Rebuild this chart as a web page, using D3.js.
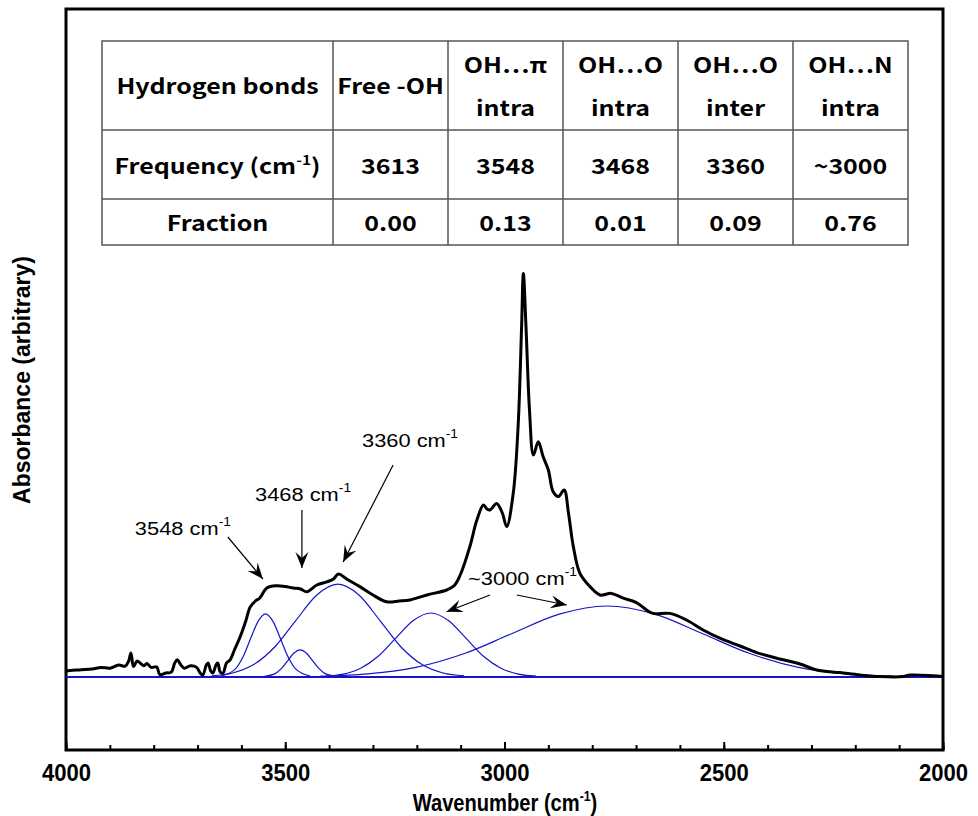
<!DOCTYPE html>
<html>
<head>
<meta charset="utf-8">
<script src="https://cdn.jsdelivr.net/npm/d3@7"></script>
<style>
  body { margin: 0; background: #fff; }
  svg text { font-family: Arial, "Liberation Sans", sans-serif; }
  .tbl text { font-family: "Noto Sans CJK KR", "Noto Sans", sans-serif; font-weight: 700; }
</style>
</head>
<body>
<svg id="chart" width="978" height="816"></svg>
<script>
// measured spectrum, [wavenumber, absorbance]
const spectrum = [
  [4000,0.015],[3991,0.016],[3965,0.018],[3940,0.02],[3920,0.024],[3900,0.022],[3880,0.03],[3865,0.027],
  [3857,0.04],[3852,0.06],[3846,0.026],[3838,0.04],[3831,0.035],[3822,0.028],[3816,0.034],[3806,0.024],
  [3793,0.025],[3786,0.006],[3772,0.01],[3760,0.012],[3752,0.035],[3746,0.043],[3738,0.03],[3730,0.022],
  [3716,0.028],[3702,0.024],[3694,0.01],[3688,0.005],[3680,0.03],[3676,0.035],[3670,0.015],[3665,0.01],
  [3658,0.03],[3654,0.035],[3648,0.012],[3642,0.01],[3634,0.035],[3626,0.0425],[3615,0.07],[3603,0.1],
  [3590,0.14],[3580,0.175],[3568,0.19],[3558,0.1975],[3542,0.2225],[3520,0.228],[3500,0.226],[3482,0.2225],
  [3465,0.22],[3451,0.213],[3428,0.23],[3405,0.238],[3390,0.245],[3379,0.2575],[3360,0.245],[3330,0.226],
  [3300,0.205],[3269,0.188],[3240,0.19],[3216,0.1925],[3177,0.205],[3132,0.2175],[3115,0.228],[3101,0.255],
  [3079,0.326],[3063,0.3925],[3048,0.43],[3040,0.42],[3033,0.4175],[3018,0.434],[3005,0.41],[2995,0.376],
  [2980,0.46],[2969,0.626],[2961,0.876],[2957,1.009],[2951,0.876],[2943,0.6675],[2934,0.555],[2923,0.588],
  [2912,0.551],[2900,0.5175],[2889,0.463],[2877,0.451],[2864,0.4675],[2854,0.409],[2843,0.326],[2828,0.259],
  [2805,0.226],[2782,0.205],[2756,0.209],[2729,0.197],[2699,0.186],[2676,0.1675],[2661,0.159],[2623,0.159],
  [2585,0.1425],[2547,0.1175],[2509,0.097],[2463,0.0775],[2425,0.061],[2379,0.047],[2326,0.0325],[2288,0.0175],
  [2235,0.011],[2189,0.005],[2144,0.001],[2091,0.001],[2075,0.005],[2023,0.003],[2000,0.001]
];

// fitted bands
const band3548 = [[3647,0.002],[3613,0.021],[3596,0.051],[3579,0.096],[3562,0.139],[3545,0.158],
  [3528,0.139],[3511,0.096],[3494,0.051],[3477,0.021],[3443,0.002]];
const band3468 = [[3550,0.001],[3522,0.009],[3508,0.022],[3494,0.041],[3480,0.060],[3466,0.068],
  [3452,0.060],[3438,0.041],[3424,0.022],[3410,0.009],[3382,0.001]];
const band3360 = [[3668,0.003],[3620,0.010],[3572,0.031],[3524,0.075],[3476,0.141],[3428,0.205],[3380,0.232],
  [3332,0.205],[3284,0.141],[3236,0.075],[3188,0.031],[3140,0.010],[3092,0.003]];
const band3170 = [[3408,0.002],[3368,0.007],[3328,0.022],[3288,0.052],[3248,0.097],[3208,0.141],[3168,0.160],
  [3128,0.141],[3088,0.097],[3048,0.052],[3008,0.022],[2968,0.007],[2928,0.002]];
const band2766 = [[3420,0.002],[3311,0.008],[3202,0.024],[3093,0.058],[2984,0.108],[2875,0.157],[2766,0.1775],
  [2657,0.157],[2548,0.108],[2439,0.058],[2330,0.024],[2221,0.008],[2112,0.002]];
const bands = [band3548, band3468, band3360, band3170, band2766];

// annotation labels: text, anchor [wn, abs]
const labels = [
  { t: "3548 cm", at: [3843, 0.355] },
  { t: "3468 cm", at: [3569, 0.44] },
  { t: "3360 cm", at: [3325, 0.575] },
  { t: "~3000 cm", at: [3083, 0.23] }
];
const arrows = [
  [[3631, 0.35], [3551, 0.245]],
  [[3462, 0.4175], [3462, 0.2725]],
  [[3254, 0.53], [3368, 0.2875]],
  [[3033, 0.205], [3132, 0.163]],
  [[2972, 0.205], [2858, 0.18]]
];

// table
const headers = [["Hydrogen bonds"], ["Free -OH"], ["OH…π", "intra"], ["OH…O", "intra"], ["OH…O", "inter"], ["OH…N", "intra"]];
const frequencies = ["3613", "3548", "3468", "3360", "~3000"];
const fractions = [0.00, 0.13, 0.01, 0.09, 0.76];

const majorTicks = [4000, 3500, 3000, 2500, 2000];

const svg = d3.select("#chart");
const x = d3.scaleLinear().domain([4000, 2000]).range([66, 943]);
const y = d3.scaleLinear().domain([-0.1825, 1.67]).range([750, 9]);

// axis
const gx = svg.append("g").attr("transform", "translate(0,750)");
gx.call(d3.axisBottom(x).tickValues(d3.range(2000, 4001, 100)).tickSize(-5).tickFormat(""));
gx.call(g => g.select(".domain").remove());
const gxm = svg.append("g").attr("transform", "translate(0,750)")
  .call(d3.axisBottom(x).tickValues(majorTicks).tickSize(-8).tickPadding(14).tickFormat(d3.format("d")));
gxm.select(".domain").remove();
svg.selectAll(".tick line").attr("stroke", "#000").attr("stroke-width", 2);
// tick labels look a little condensed in the original
gxm.selectAll(".tick text").attr("font-size", 24).attr("font-weight", "bold").attr("fill", "#000")
  .attr("transform", "scale(0.92,1)")
  .attr("x", function () { return 0; });

// frame
svg.append("rect").attr("x", 66).attr("y", 9).attr("width", 877).attr("height", 741)
  .attr("fill", "none").attr("stroke", "#000").attr("stroke-width", 3);

// axis titles
const xt = svg.append("text").attr("transform", "translate(505,811) scale(0.875,1)").attr("text-anchor", "middle")
  .attr("font-size", 23).attr("font-weight", "bold");
xt.append("tspan").text("Wavenumber (cm");
xt.append("tspan").attr("font-size", 14).attr("dy", -10).text("-1");
xt.append("tspan").attr("dy", 10).text(")");

svg.append("text").attr("transform", "translate(30,380) rotate(-90)").attr("text-anchor", "middle")
  .attr("font-size", 23).attr("font-weight", "bold").text("Absorbance (arbitrary)");

// bands
const blue = "#1414c8";
svg.append("line").attr("x1", x(4000)).attr("x2", x(2000)).attr("y1", y(0)).attr("y2", y(0))
  .attr("stroke", blue).attr("stroke-width", 2);
const bandLine = d3.line().x(d => x(d[0])).y(d => y(d[1])).curve(d3.curveMonotoneX);
svg.selectAll(".band").data(bands).enter().append("path")
  .attr("class", "band")
  .attr("d", d => bandLine(d.slice().reverse()))
  .attr("fill", "none").attr("stroke", blue).attr("stroke-width", 1.2);

// spectrum
const specLine = d3.line().x(d => x(d[0])).y(d => y(d[1])).curve(d3.curveCatmullRom.alpha(0.5));
svg.append("path").attr("d", specLine(spectrum))
  .attr("fill", "none").attr("stroke", "#000").attr("stroke-width", 3).attr("stroke-linejoin", "round");

// arrows
svg.append("defs").append("marker").attr("id", "head")
  .attr("viewBox", "-16 -7 18 14").attr("markerWidth", 18).attr("markerHeight", 14)
  .attr("markerUnits", "userSpaceOnUse").attr("refX", 0).attr("refY", 0).attr("orient", "auto")
  .append("path").attr("d", "M0,0 L-16,-6.5 L-10,0 L-16,6.5 Z").attr("fill", "#000");
svg.selectAll(".arr").data(arrows).enter().append("line")
  .attr("x1", d => x(d[0][0])).attr("y1", d => y(d[0][1]))
  .attr("x2", d => x(d[1][0])).attr("y2", d => y(d[1][1]))
  .attr("stroke", "#000").attr("stroke-width", 1.2).attr("marker-end", "url(#head)");

// labels are a bit wider than plain Arial in the original
const lab = svg.selectAll(".lab").data(labels).enter().append("text")
  .attr("transform", d => `translate(${x(d.at[0])},${y(d.at[1])}) scale(1.15,1)`).attr("font-size", 19);
lab.append("tspan").text(d => d.t);
lab.append("tspan").attr("font-size", 12).attr("dy", -9).text("-1");

// table
const colEdges = [102, 333, 448, 563, 678, 793, 908];
const rowEdges = [41, 130, 199, 245];
const tbl = svg.append("g").attr("class", "tbl");
tbl.append("rect").attr("x", colEdges[0]).attr("y", rowEdges[0])
  .attr("width", colEdges[6] - colEdges[0]).attr("height", rowEdges[3] - rowEdges[0])
  .attr("fill", "#fff").attr("stroke", "#555").attr("stroke-width", 1.5);
tbl.selectAll(".vl").data(colEdges.slice(1, 6)).enter().append("line")
  .attr("x1", d => d).attr("x2", d => d).attr("y1", rowEdges[0]).attr("y2", rowEdges[3])
  .attr("stroke", "#555").attr("stroke-width", 1.5);
tbl.selectAll(".hl").data(rowEdges.slice(1, 3)).enter().append("line")
  .attr("x1", colEdges[0]).attr("x2", colEdges[6]).attr("y1", d => d).attr("y2", d => d)
  .attr("stroke", "#555").attr("stroke-width", 1.5);

const cx = i => (colEdges[i] + colEdges[i + 1]) / 2;
const fs = 21;
const sx = 1.19;
function cell(xc, yb) {
  return tbl.append("text").attr("transform", `translate(${xc},${yb}) scale(${sx},1)`)
    .attr("text-anchor", "middle").attr("font-size", fs);
}
headers.forEach((lines, i) => {
  if (lines.length === 1) {
    cell(cx(i), 94).text(lines[0]);
  } else {
    cell(cx(i), 73).text(lines[0]);
    cell(cx(i), 116).text(lines[1]);
  }
});
const fq = cell(cx(0), 174);
fq.append("tspan").text("Frequency (cm");
fq.append("tspan").attr("font-size", 13).attr("dy", -9).text("-1");
fq.append("tspan").attr("dy", 9).text(")");
frequencies.forEach((d, i) => cell(cx(i + 1), 174).text(d));
cell(cx(0), 231).text("Fraction");
fractions.forEach((d, i) => cell(cx(i + 1), 231).text(d3.format(".2f")(d)));
</script>
</body>
</html>
